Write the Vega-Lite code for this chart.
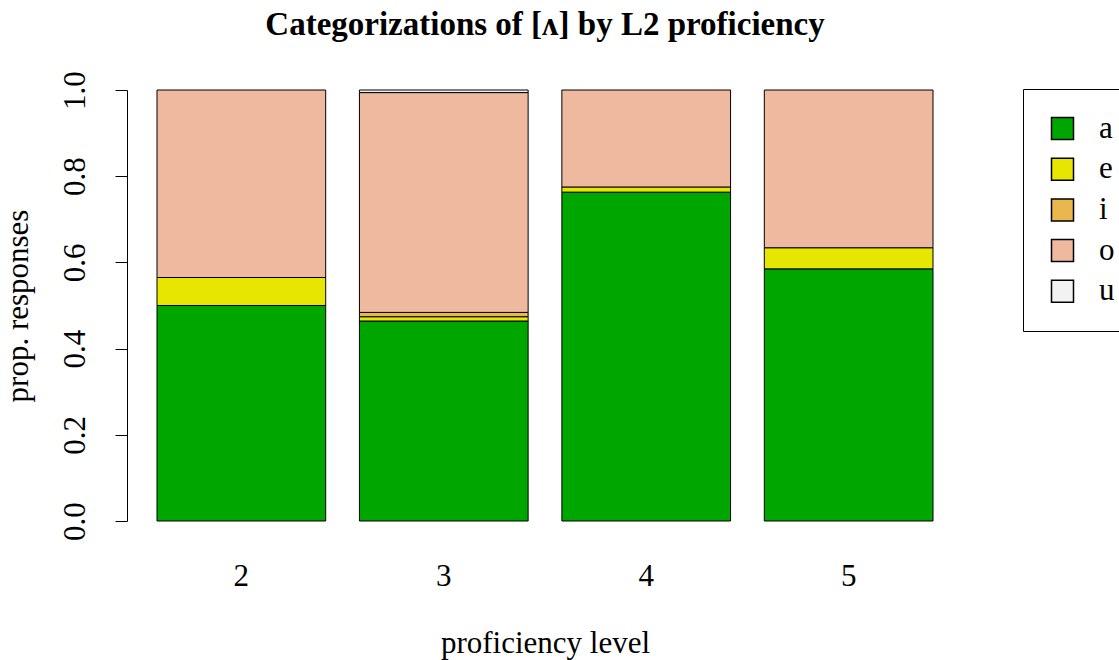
{
  "$schema": "https://vega.github.io/schema/vega-lite/v6.json",
  "autosize": {"type": "none"},
  "width": 776,
  "height": 431,
  "padding": {"left": 157, "top": 90, "right": 186, "bottom": 139},
  "background": "white",
  "config": {"view": {"stroke": null}, "font": "Liberation Serif"},
  "title": {"text": "Categorizations of [ʌ] by L2 proficiency", "fontSize": 33, "fontWeight": "bold", "font": "Liberation Serif", "offset": 29, "anchor": "middle", "color": "black"},
  "data": {"values": [
    {"level": "2", "vowel": "a", "prop": 0.5},
    {"level": "2", "vowel": "e", "prop": 0.065},
    {"level": "2", "vowel": "o", "prop": 0.435},
    {"level": "3", "vowel": "a", "prop": 0.464},
    {"level": "3", "vowel": "e", "prop": 0.010},
    {"level": "3", "vowel": "i", "prop": 0.010},
    {"level": "3", "vowel": "o", "prop": 0.510},
    {"level": "3", "vowel": "u", "prop": 0.006},
    {"level": "4", "vowel": "a", "prop": 0.763},
    {"level": "4", "vowel": "e", "prop": 0.012},
    {"level": "4", "vowel": "o", "prop": 0.225},
    {"level": "5", "vowel": "a", "prop": 0.585},
    {"level": "5", "vowel": "e", "prop": 0.049},
    {"level": "5", "vowel": "o", "prop": 0.366}
  ]},
  "mark": {"type": "bar", "stroke": "black", "strokeWidth": 1},
  "encoding": {
    "x": {"field": "level", "type": "ordinal",
      "scale": {"paddingInner": 0.1667, "paddingOuter": 0},
      "axis": {"title": "proficiency level", "labelAngle": 0, "domain": false, "ticks": false, "labelPadding": 40, "labelFontSize": 31, "labelFont": "Liberation Serif", "labelColor": "black", "titleFontSize": 31, "titleFont": "Liberation Serif", "titleFontWeight": "normal", "titleColor": "black", "titlePadding": 37}},
    "y": {"field": "prop", "type": "quantitative", "stack": "zero",
      "scale": {"domain": [0, 1], "nice": false},
      "axis": {"title": "prop. responses", "offset": 30, "grid": false, "values": [0, 0.2, 0.4, 0.6, 0.8, 1], "format": ".1f", "tickSize": 12, "tickColor": "black", "domainColor": "black", "labelAngle": -90, "labelAlign": "center", "labelBaseline": "bottom", "labelPadding": 24, "labelFontSize": 31, "labelFont": "Liberation Serif", "labelColor": "black", "titleFontSize": 31, "titleFont": "Liberation Serif", "titleFontWeight": "normal", "titleColor": "black", "titlePadding": 25}},
    "color": {"field": "vowel", "type": "nominal",
      "scale": {"domain": ["a", "e", "i", "o", "u"], "range": ["#00A600", "#E6E600", "#EAB64E", "#EEB99F", "#F2F2F2"]},
      "legend": {"orient": "none", "legendX": 866, "legendY": -1, "title": null, "symbolType": "square", "symbolSize": 484, "symbolStrokeColor": "black", "labelFontSize": 31, "labelFont": "Liberation Serif", "labelColor": "black", "labelOffset": 21, "rowPadding": 8.7, "padding": 24, "strokeColor": "black"}},
    "order": {"field": "vowel", "sort": "ascending"}
  }
}
